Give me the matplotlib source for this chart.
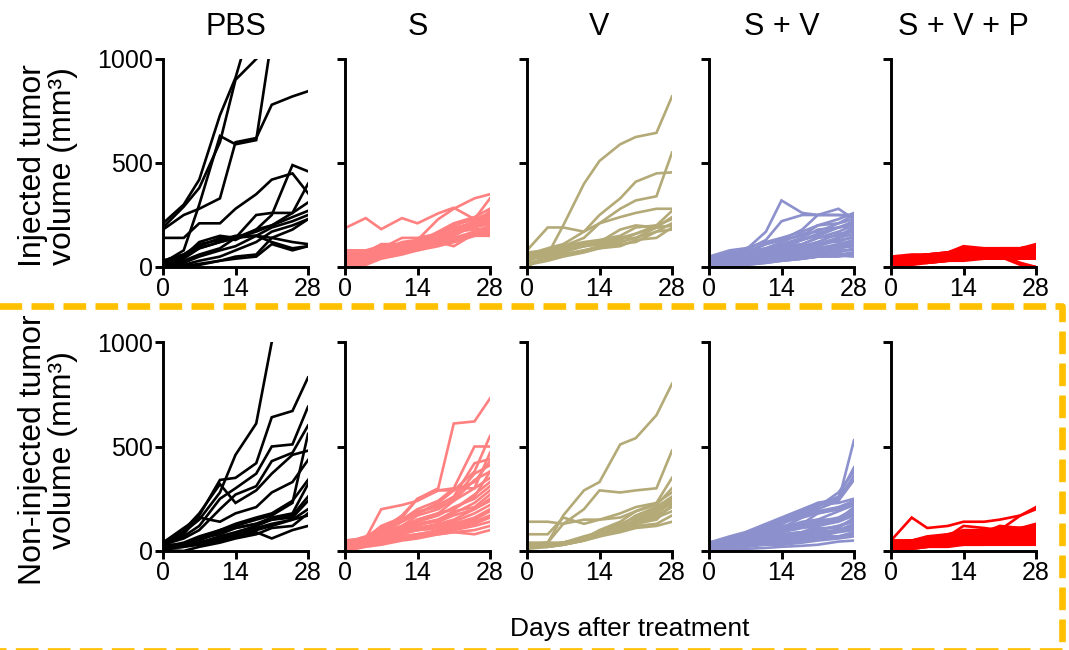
import numpy as np
import matplotlib
matplotlib.use("Agg")
import matplotlib.pyplot as plt
from matplotlib.lines import Line2D

plt.rcParams['font.family'] = ['Liberation Sans', 'DejaVu Sans']

nan = np.nan
days = [0, 4, 7, 11, 14, 18, 21, 25, 28]
groups = ["PBS", "S", "V", "S + V", "S + V + P"]
colors = ["#000000", "#FF8080", "#B3AA78", "#8C91CD", "#FF0000"]
row_labels = ["Injected tumor\nvolume (mm³)", "Non-injected tumor\nvolume (mm³)"]
xlabel = "Days after treatment"
xticks = [0, 14, 28]
yticks = [0, 500, 1000]

pbs_inj = [
    [210, 300, 420, 730, 910, 1250, nan, nan, nan],
    [190, 290, 380, 600, 900, 1000, nan, nan, nan],
    [20, 80, 300, 630, 590, 610, 1100, nan, nan],
    [180, 250, 280, 330, 600, 620, 780, 820, 845],
    [140, 140, 210, 210, 280, 350, 420, 450, 355],
    [30, 60, 100, 140, 130, 180, 250, 490, 460],
    [20, 50, 120, 150, 140, 250, 260, 260, 400],
    [10, 40, 90, 120, 140, 180, 200, 260, 310],
    [10, 30, 60, 90, 140, 170, 200, 240, 270],
    [5, 20, 50, 80, 100, 150, 190, 220, 250],
    [0, 10, 30, 50, 80, 120, 170, 200, 230],
    [30, 60, 110, 130, 150, 150, 140, 120, 110],
    [20, 50, 90, 120, 140, 150, 120, 90, 100],
    [0, 0, 10, 30, 40, 50, 110, 80, 100],
    [0, 5, 15, 30, 50, 60, 140, 180, 230],
]
pbs_non = [
    [40, 90, 150, 280, 460, 610, 1000, nan, nan],
    [40, 80, 170, 340, 350, 420, 640, 670, 830],
    [30, 70, 120, 250, 300, 370, 500, 510, 690],
    [30, 60, 100, 200, 270, 310, 430, 470, 600],
    [40, 100, 180, 320, 230, 290, 370, 460, 480],
    [40, 110, 160, 140, 180, 210, 280, 330, 435],
    [10, 30, 60, 100, 130, 160, 180, 240, 340],
    [20, 30, 50, 90, 110, 130, 160, 180, 320],
    [10, 20, 40, 70, 90, 120, 150, 170, 260],
    [30, 30, 60, 80, 110, 130, 150, 160, 240],
    [20, 30, 40, 60, 80, 110, 130, 150, 200],
    [10, 20, 30, 50, 70, 100, 120, 150, 170],
    [20, 30, 40, 50, 70, 90, 60, 100, 120],
    [5, 0, 20, 40, 60, 80, 110, 120, 180],
    [20, 40, 70, 100, 120, 150, 170, 230, 560],
]
s_inj = [
    [187, 235, 182, 235, 210, 258, 285, 230, 330],
    [40, 60, 80, 120, 130, 230, 280, 330, 350],
    [60, 70, 110, 110, 120, 170, 210, 240, 280],
    [50, 60, 90, 140, 140, 160, 200, 230, 260],
    [40, 60, 90, 100, 120, 150, 180, 220, 250],
    [30, 50, 80, 100, 120, 150, 180, 210, 240],
    [70, 70, 100, 110, 130, 160, 190, 210, 230],
    [20, 40, 70, 90, 110, 140, 170, 200, 220],
    [10, 30, 60, 80, 100, 130, 160, 190, 210],
    [50, 60, 80, 100, 110, 130, 150, 200, 200],
    [60, 70, 90, 110, 120, 140, 170, 180, 190],
    [0, 20, 50, 70, 90, 120, 140, 170, 180],
    [30, 50, 70, 80, 90, 110, 130, 160, 170],
    [40, 60, 80, 90, 100, 120, 100, 160, 160],
    [20, 40, 60, 70, 80, 110, 120, 150, 150],
    [0, 10, 40, 60, 80, 100, 120, 150, 200],
    [80, 80, 100, 110, 100, 130, 160, 200, 270],
]
s_non = [
    [20, 50, 100, 170, 250, 300, 610, 620, 730],
    [30, 60, 200, 220, 240, 290, 290, 330, 430],
    [30, 60, 100, 150, 200, 240, 300, 500, 500],
    [20, 50, 90, 140, 180, 230, 290, 380, 550],
    [40, 60, 120, 160, 250, 290, 300, 300, 470],
    [30, 50, 90, 140, 180, 220, 260, 420, 440],
    [20, 50, 80, 120, 170, 200, 250, 370, 410],
    [40, 70, 110, 150, 190, 210, 240, 340, 380],
    [30, 60, 90, 120, 150, 180, 240, 300, 350],
    [10, 40, 80, 110, 140, 180, 200, 270, 330],
    [50, 60, 80, 120, 140, 170, 210, 250, 310],
    [20, 50, 70, 100, 130, 150, 180, 230, 290],
    [30, 40, 70, 90, 120, 150, 190, 210, 270],
    [40, 60, 90, 110, 130, 140, 170, 200, 250],
    [10, 30, 60, 80, 110, 130, 150, 200, 240],
    [20, 50, 60, 90, 100, 120, 140, 180, 220],
    [30, 40, 50, 80, 100, 110, 130, 160, 200],
    [50, 60, 70, 90, 100, 110, 120, 150, 190],
    [10, 30, 40, 60, 80, 100, 120, 140, 170],
    [20, 40, 50, 70, 80, 90, 110, 130, 160],
    [40, 50, 60, 70, 80, 90, 100, 120, 140],
    [0, 20, 30, 50, 60, 80, 90, 100, 120],
    [30, 40, 50, 60, 70, 80, 90, 80, 100],
    [10, 30, 60, 100, 150, 180, 200, 260, 380],
]
v_inj = [
    [0, 60, 200, 400, 510, 590, 625, 645, 820],
    [60, 90, 110, 170, 250, 330, 410, 450, 455],
    [40, 80, 100, 140, 210, 280, 320, 340, 550],
    [80, 190, 190, 170, 210, 240, 260, 280, 280],
    [40, 70, 100, 120, 130, 150, 190, 200, 270],
    [60, 70, 90, 110, 120, 180, 200, 190, 240],
    [30, 60, 80, 100, 120, 140, 160, 200, 230],
    [50, 60, 70, 100, 110, 130, 160, 190, 200],
    [20, 40, 60, 80, 100, 120, 140, 170, 210],
    [70, 80, 90, 100, 110, 140, 140, 190, 200],
    [10, 30, 50, 70, 90, 100, 130, 140, 190],
    [40, 50, 60, 80, 90, 110, 120, 170, 180],
]
v_non = [
    [30, 40, 170, 290, 330, 510, 540, 650, 800],
    [140, 140, 130, 200, 290, 280, 290, 300, 480],
    [80, 80, 160, 130, 150, 180, 210, 230, 350],
    [30, 40, 130, 150, 150, 160, 190, 220, 300],
    [20, 20, 30, 60, 100, 140, 190, 230, 280],
    [30, 30, 40, 60, 90, 120, 170, 210, 260],
    [20, 30, 40, 70, 90, 130, 160, 200, 250],
    [30, 30, 40, 60, 80, 110, 150, 190, 240],
    [20, 20, 30, 50, 80, 110, 140, 180, 230],
    [40, 40, 40, 60, 90, 120, 140, 170, 210],
    [20, 30, 30, 50, 70, 100, 130, 160, 190],
    [30, 30, 40, 60, 80, 100, 120, 130, 170],
    [20, 20, 30, 50, 70, 90, 110, 120, 140],
    [10, 20, 40, 60, 80, 110, 130, 150, 220],
]
sv_inj = [
    [30, 50, 80, 170, 320, 260, 250, 280, 230],
    [40, 70, 80, 130, 220, 250, 250, 250, 250],
    [20, 50, 70, 110, 130, 180, 250, 250, 240],
    [50, 80, 90, 120, 140, 170, 200, 230, 260],
    [30, 60, 70, 110, 130, 150, 200, 210, 250],
    [20, 40, 70, 90, 120, 160, 170, 210, 230],
    [40, 60, 70, 90, 110, 140, 180, 190, 220],
    [10, 30, 50, 80, 90, 130, 150, 190, 210],
    [30, 50, 60, 80, 100, 110, 140, 170, 200],
    [50, 60, 70, 80, 90, 110, 140, 150, 190],
    [20, 40, 50, 70, 90, 100, 120, 160, 170],
    [30, 40, 50, 60, 80, 100, 110, 140, 160],
    [40, 50, 60, 70, 80, 90, 120, 120, 150],
    [10, 30, 40, 60, 70, 90, 100, 130, 140],
    [20, 30, 40, 50, 60, 80, 90, 110, 130],
    [30, 40, 40, 50, 60, 70, 90, 100, 120],
    [0, 20, 30, 40, 50, 60, 80, 90, 110],
    [20, 30, 30, 40, 50, 60, 70, 90, 100],
    [10, 20, 20, 30, 40, 50, 60, 70, 90],
    [30, 30, 30, 40, 40, 50, 60, 80, 80],
    [0, 10, 10, 20, 30, 40, 50, 60, 70],
    [20, 20, 20, 30, 30, 40, 50, 50, 60],
    [10, 20, 30, 50, 70, 90, 110, 140, 180],
    [40, 50, 60, 80, 100, 130, 160, 190, 200],
    [0, 0, 10, 20, 30, 40, 50, 55, 50],
]
sv_non = [
    [20, 40, 60, 90, 130, 170, 200, 240, 530],
    [30, 50, 70, 100, 140, 180, 220, 260, 400],
    [20, 50, 70, 100, 130, 170, 210, 280, 380],
    [30, 60, 80, 110, 150, 190, 230, 250, 360],
    [40, 70, 90, 130, 160, 200, 230, 240, 340],
    [30, 60, 80, 120, 150, 190, 220, 230, 250],
    [20, 50, 70, 100, 110, 160, 190, 210, 240],
    [30, 50, 70, 90, 120, 130, 180, 200, 230],
    [10, 40, 60, 80, 110, 140, 150, 190, 220],
    [40, 50, 60, 90, 110, 130, 150, 150, 210],
    [20, 40, 50, 80, 100, 120, 140, 160, 200],
    [30, 40, 50, 70, 90, 110, 120, 150, 190],
    [20, 30, 40, 60, 80, 90, 120, 140, 170],
    [10, 30, 40, 60, 70, 90, 110, 110, 160],
    [30, 40, 50, 60, 70, 90, 100, 120, 150],
    [20, 30, 40, 50, 60, 80, 90, 100, 130],
    [10, 20, 30, 50, 60, 70, 90, 100, 120],
    [30, 30, 40, 50, 60, 70, 80, 100, 110],
    [20, 20, 30, 40, 50, 60, 70, 90, 100],
    [10, 20, 30, 40, 50, 60, 70, 70, 90],
    [30, 30, 30, 40, 40, 50, 60, 70, 80],
    [0, 10, 20, 30, 30, 40, 50, 60, 70],
    [0, 5, 10, 15, 20, 25, 30, 45, 50],
    [40, 60, 80, 110, 140, 160, 180, 200, 240],
    [20, 40, 60, 80, 100, 120, 130, 150, 180],
    [10, 30, 50, 60, 80, 90, 100, 120, 140],
]
svp_inj = [
    [40, 50, 60, 70, 100, 90, 90, 90, 110],
    [30, 50, 50, 70, 90, 90, 90, 90, 100],
    [20, 40, 50, 60, 70, 80, 80, 90, 90],
    [40, 50, 60, 70, 70, 80, 90, 90, 80],
    [30, 40, 50, 60, 70, 80, 80, 80, 90],
    [20, 30, 40, 50, 60, 70, 80, 90, 100],
    [50, 60, 60, 70, 80, 80, 70, 80, 80],
    [30, 30, 40, 50, 60, 60, 70, 80, 90],
    [20, 30, 40, 40, 50, 60, 70, 70, 80],
    [40, 40, 50, 50, 60, 70, 70, 80, 70],
    [10, 20, 30, 40, 50, 60, 60, 70, 80],
    [30, 40, 40, 50, 50, 60, 60, 70, 60],
    [20, 20, 30, 40, 40, 50, 60, 60, 70],
    [40, 50, 50, 60, 60, 60, 50, 10, 0],
    [30, 40, 50, 60, 60, 70, 60, 20, 0],
    [20, 30, 30, 40, 50, 50, 50, 60, 60],
    [10, 20, 20, 30, 40, 40, 50, 50, 50],
    [30, 30, 30, 40, 40, 50, 50, 60, 60],
    [20, 30, 40, 50, 60, 70, 80, 80, 90],
    [50, 50, 60, 60, 70, 70, 80, 90, 100],
    [10, 20, 30, 40, 40, 50, 50, 50, 40],
    [30, 40, 40, 40, 50, 50, 60, 70, 70],
    [40, 40, 40, 50, 50, 50, 50, 50, 50],
    [0, 10, 20, 30, 40, 50, 60, 70, 80],
    [20, 20, 20, 30, 30, 40, 40, 40, 40],
]
svp_non = [
    [50, 160, 110, 120, 140, 140, 150, 170, 210],
    [30, 40, 60, 70, 80, 90, 100, 170, 200],
    [40, 50, 60, 70, 120, 110, 100, 110, 130],
    [30, 40, 60, 80, 100, 100, 110, 110, 120],
    [40, 50, 70, 80, 90, 100, 110, 110, 110],
    [20, 40, 50, 70, 80, 90, 120, 110, 100],
    [30, 40, 50, 60, 70, 80, 90, 100, 110],
    [40, 40, 50, 60, 70, 80, 90, 90, 100],
    [20, 30, 40, 50, 60, 70, 80, 90, 90],
    [30, 30, 40, 50, 60, 60, 70, 80, 90],
    [50, 50, 60, 60, 70, 70, 80, 80, 80],
    [20, 30, 40, 40, 50, 60, 70, 70, 80],
    [30, 30, 30, 40, 50, 50, 60, 70, 70],
    [10, 20, 30, 40, 50, 60, 60, 70, 70],
    [40, 40, 40, 50, 50, 60, 60, 60, 60],
    [20, 20, 30, 30, 40, 50, 50, 60, 60],
    [30, 30, 30, 40, 40, 40, 50, 50, 50],
    [10, 20, 20, 30, 30, 40, 40, 50, 50],
    [20, 20, 20, 30, 30, 30, 40, 40, 40],
    [40, 50, 60, 60, 70, 80, 80, 90, 100],
    [30, 40, 50, 70, 80, 90, 90, 100, 90],
    [20, 30, 40, 50, 70, 70, 80, 80, 70],
    [0, 10, 20, 30, 40, 50, 60, 60, 60],
    [30, 40, 40, 50, 60, 60, 70, 80, 60],
    [10, 10, 20, 20, 30, 30, 30, 30, 30],
    [40, 50, 50, 60, 60, 70, 70, 70, 80],
    [20, 30, 30, 40, 40, 50, 50, 60, 70],
    [30, 40, 50, 50, 60, 60, 70, 70, 50],
    [50, 50, 50, 60, 60, 60, 70, 80, 90],
    [20, 30, 40, 50, 60, 70, 80, 90, 110],
]

data = [
    [pbs_inj, s_inj, v_inj, sv_inj, svp_inj],
    [pbs_non, s_non, v_non, sv_non, svp_non],
]

W, H = 1069, 650
fig = plt.figure(figsize=(W / 100, H / 100), dpi=100)

def fx(px):
    return px / W

def fy(py):
    return 1 - py / H

row_top = [59, 342]
row_bot = [267, 551]
col_left = [163 + 182 * i for i in range(5)]
ax_w = 145

for r in range(2):
    for c in range(5):
        ax = fig.add_axes([fx(col_left[c]), fy(row_bot[r]), fx(ax_w),
                           (row_bot[r] - row_top[r]) / H])
        for series in data[r][c]:
            ax.plot(days, series, color=colors[c], lw=1.9, solid_joinstyle='miter')
        ax.set_xlim(0, 28)
        ax.set_ylim(0, 1000)
        ax.set_xticks(xticks)
        ax.set_yticks(yticks)
        for s in ['top', 'right']:
            ax.spines[s].set_visible(False)
        for s in ['left', 'bottom']:
            ax.spines[s].set_linewidth(2.1)
            ax.spines[s].set_capstyle('projecting')
        ax.tick_params(direction='out', length=6, width=2.1, labelsize=18,
                       pad=1.5, colors='black')
        if c != 0:
            ax.set_yticklabels([])
        ax.patch.set_alpha(0)

for c in range(5):
    fig.text(fx(col_left[c] + ax_w / 2), fy(35), groups[c], ha='center',
             va='baseline', fontsize=22)

fig.text(fx(48), fy(166), row_labels[0], rotation=90, ha='center', va='center',
         multialignment='center', fontsize=23, linespacing=1.0)
fig.text(fx(48), fy(450), row_labels[1], rotation=90, ha='center', va='center',
         multialignment='center', fontsize=23, linespacing=1.0)

fig.text(fx(630), fy(636), xlabel, ha='center', va='baseline', fontsize=19)

# dashed orange frame around the bottom row
bx = [fx(-10), fx(1062), fx(1062), fx(-10)]
by = [fy(306), fy(306), fy(651), fy(651)]
frame = Line2D(bx, by, transform=fig.transFigure, color='#FFC000', lw=4.8,
               linestyle=(0, (3.4, 1.4)), solid_joinstyle='miter',
               dash_capstyle='butt', clip_on=False)
fig.add_artist(frame)

fig.savefig("out.png", dpi=100)
